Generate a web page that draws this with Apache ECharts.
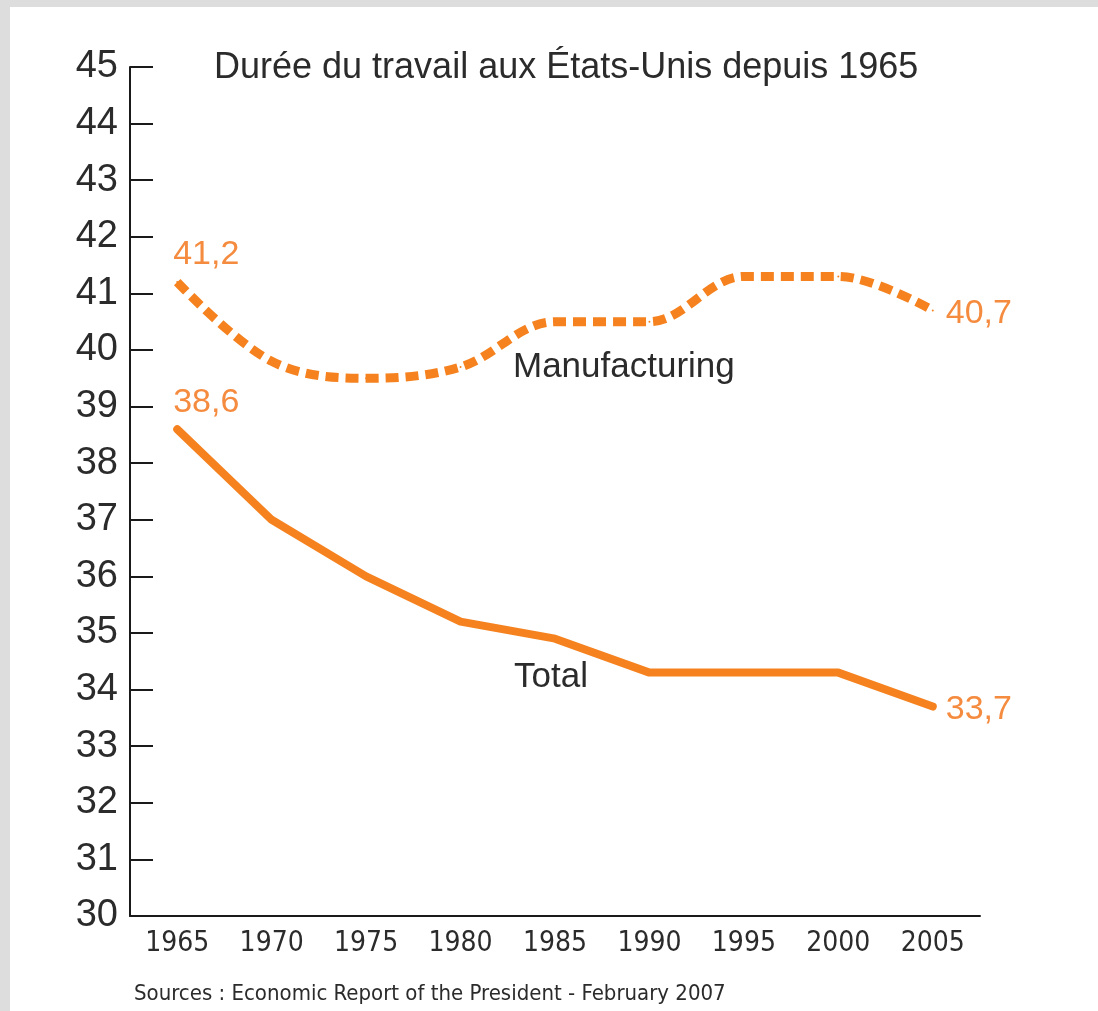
<!DOCTYPE html>
<html>
<head>
    <meta charset="UTF-8">
    <title>Durée du travail aux États-Unis depuis 1965</title>
    <style>
        * {
            margin: 0;
            padding: 0
        }

        body {
            background: #dddddd;
            width: 1098px;
            height: 1011px;
            overflow: hidden;
        }

        #chart {
            position: absolute;
            left: 10px;
            top: 7px;
            width: 1088px;
            height: 1004px;
            background: #ffffff;
        }
    </style>
</head>
<body>
<div id="chart"></div>
<script type="text/javascript" src="https://cdn.jsdelivr.net/npm/echarts@6/dist/echarts.min.js"></script>
<script type="text/javascript">
    // données
    var years = ['1965', '1970', '1975', '1980', '1985', '1990', '1995', '2000', '2005'];
    var totalHours = [38.6, 37.0, 36.0, 35.2, 34.9, 34.3, 34.3, 34.3, 33.7];
    var manufHours = [41.2, 39.8, 39.5, 39.7, 40.5, 40.5, 41.3, 41.3, 40.7];
    var yTicks = [30, 31, 32, 33, 34, 35, 36, 37, 38, 39, 40, 41, 42, 43, 44, 45];

    var orange = '#f5821f';
    var labelOrange = '#f58b3e';
    var font = '"Liberation Sans", Arial, Helvetica, sans-serif';
    var narrow = '"Liberation Sans Narrow", "DejaVu Sans Condensed", "Liberation Sans", sans-serif';

    // étiquette seulement au premier et au dernier point
    function withEndLabels(values) {
        var last = values.length - 1;
        return values.map(function (v, i) {
            var item = {value: v};
            if (i === 0) {
                item.label = {show: true, position: 'top', distance: 9, offset: [29, 0]};
            } else if (i === last) {
                item.label = {show: true, position: 'right', distance: 12, offset: [0, 3]};
            }
            return item;
        });
    }

    var labelStyle = {
        show: false,
        color: labelOrange,
        fontSize: 34,
        fontFamily: font,
        formatter: function (p) {
            return p.value.toFixed(1).replace('.', ',');
        }
    };

    var myChart = echarts.init(document.getElementById('chart'));
    var option = {
        animation: false,
        backgroundColor: '#ffffff',
        title: [{
            text: 'Durée du travail aux États-Unis depuis 1965',
            left: 199,
            top: 38,
            textStyle: {color: '#2b2b2b', fontSize: 36, fontWeight: 'normal', fontFamily: font}
        }, {
            text: 'Sources : Economic Report of the President - February 2007',
            left: 119,
            top: 971,
            textStyle: {color: '#2b2b2b', fontSize: 22, fontWeight: 'normal', fontFamily: narrow}
        }],
        grid: {
            left: 120,
            right: 118,
            top: 60,
            bottom: 95
        },
        xAxis: {
            type: 'category',
            data: years,
            boundaryGap: true,
            axisLine: {lineStyle: {color: '#1a1a1a', width: 2}},
            axisTick: {show: false},
            axisLabel: {
                color: '#2b2b2b',
                fontSize: 28,
                fontFamily: narrow,
                margin: 14,
                interval: 0
            },
            splitLine: {show: false}
        },
        yAxis: {
            type: 'value',
            min: yTicks[0],
            max: yTicks[yTicks.length - 1],
            interval: 1,
            axisLine: {show: true, lineStyle: {color: '#1a1a1a', width: 2}},
            axisTick: {show: true, inside: true, length: 23, lineStyle: {color: '#1a1a1a', width: 2}},
            axisLabel: {
                color: '#2b2b2b',
                fontSize: 38,
                fontFamily: font,
                margin: 12
            },
            splitLine: {show: false}
        },
        series: [{
            name: 'Manufacturing',
            type: 'line',
            data: withEndLabels(manufHours),
            smooth: 0.35,
            symbol: 'circle',
            symbolSize: 2,
            itemStyle: {color: orange},
            lineStyle: {color: orange, width: 9, type: [13, 7], cap: 'butt'},
            label: labelStyle,
            z: 3
        }, {
            name: 'Total',
            type: 'line',
            data: withEndLabels(totalHours),
            symbol: 'circle',
            symbolSize: 2,
            itemStyle: {color: orange},
            lineStyle: {color: orange, width: 8, cap: 'round', join: 'round'},
            label: labelStyle,
            z: 3
        }],
        graphic: [{
            type: 'text',
            left: 503,
            top: 343,
            style: {text: 'Manufacturing', fill: '#2b2b2b', fontSize: 35, fontFamily: font}
        }, {
            type: 'text',
            left: 504,
            top: 653,
            style: {text: 'Total', fill: '#2b2b2b', fontSize: 35, fontFamily: font}
        }]
    };
    myChart.setOption(option);
</script>
</body>
</html>
